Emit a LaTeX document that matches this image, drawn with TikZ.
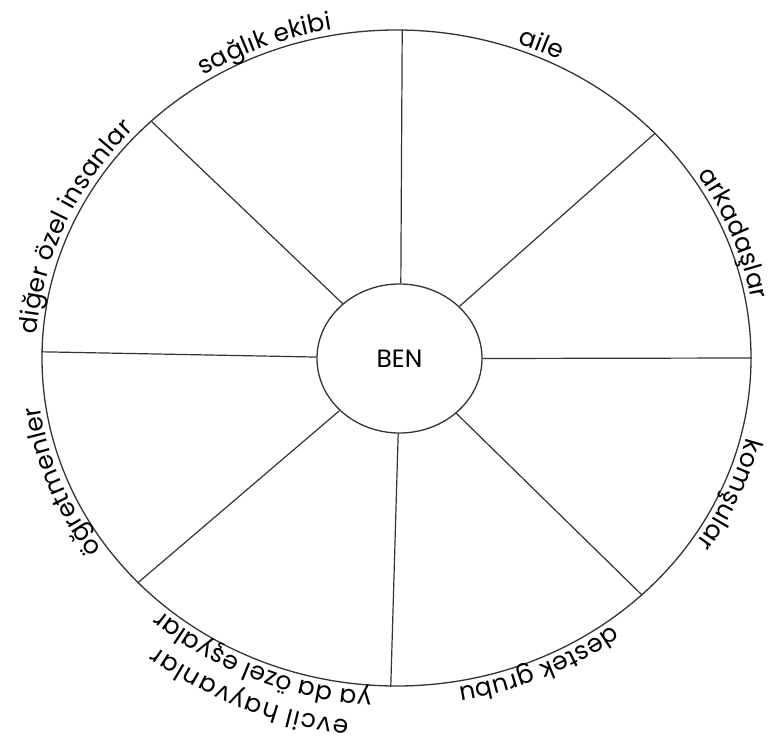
\documentclass[tikz,border=0pt]{standalone}
\usepackage{fontspec}
\setmainfont{Poppins}
\usetikzlibrary{shapes.geometric,decorations.text}
\newcommand\lblfont{\fontsize{25}{30}\selectfont}
\begin{document}
\begin{tikzpicture}[x=1pt,y=1pt,
  ring/.style={draw=black!80, line width=1.3pt, ellipse, inner sep=0pt},
  spoke/.style={draw=black!80, line width=1.2pt},
  lbl/.style={decorate, decoration={text along path, text align=center, raise=#1}}]
\useasboundingbox (0,0) rectangle (775,742);
\coordinate (c) at (396.5,384);
\node[ring, minimum width=709pt, minimum height=656pt] (outer) at (c) {};
\node[ring, minimum width=165pt, minimum height=149pt, font=\fontsize{25}{30}\selectfont] (inner) at (399.5,383.5) {BEN};
\foreach \a in {-0.8,41.9,89.2,136.5,179.2,221.9,269.2,316.5}
  \draw[spoke] (inner.\a) -- (outer.\a);
% labels (clockwise arcs, text outward)
\path[lbl=6pt, decoration={text={|\lblfont|sağlık ekibi}}]
  (c) ++(134:354.5 and 328) arc[start angle=134, end angle=89, x radius=354.5pt, y radius=328pt];
\path[lbl=6pt, decoration={text={|\lblfont|aile}}]
  (c) ++(89:354.5 and 328) arc[start angle=89, end angle=44, x radius=354.5pt, y radius=328pt];
\path[lbl=6pt, decoration={text={|\lblfont|arkadaşlar}}]
  (c) ++(44:354.5 and 328) arc[start angle=44, end angle=-1, x radius=354.5pt, y radius=328pt];
\path[lbl=6pt, decoration={text={|\lblfont|komşular}}]
  (c) ++(-1:354.5 and 328) arc[start angle=-1, end angle=-46, x radius=354.5pt, y radius=328pt];
\path[lbl=6pt, decoration={text={|\lblfont|destek grubu}}]
  (c) ++(-44:354.5 and 328) arc[start angle=-44, end angle=-89, x radius=354.5pt, y radius=328pt];
\path[lbl=6pt, decoration={text={|\lblfont|ya da özel eşyalar}}]
  (c) ++(-87:354.5 and 328) arc[start angle=-87, end angle=-138, x radius=354.5pt, y radius=328pt];
\path[lbl=37pt, decoration={text={|\lblfont|evcil hayvanlar}}]
  (c) ++(-90:354.5 and 328) arc[start angle=-90, end angle=-135, x radius=354.5pt, y radius=328pt];
\path[lbl=6pt, decoration={text={|\lblfont|öğretmenler}}]
  (c) ++(-136:354.5 and 328) arc[start angle=-136, end angle=-181, x radius=354.5pt, y radius=328pt];
\path[lbl=6pt, decoration={text={|\lblfont|diğer özel insanlar}}]
  (c) ++(181:354.5 and 328) arc[start angle=181, end angle=132, x radius=354.5pt, y radius=328pt];
\end{tikzpicture}
\end{document}
